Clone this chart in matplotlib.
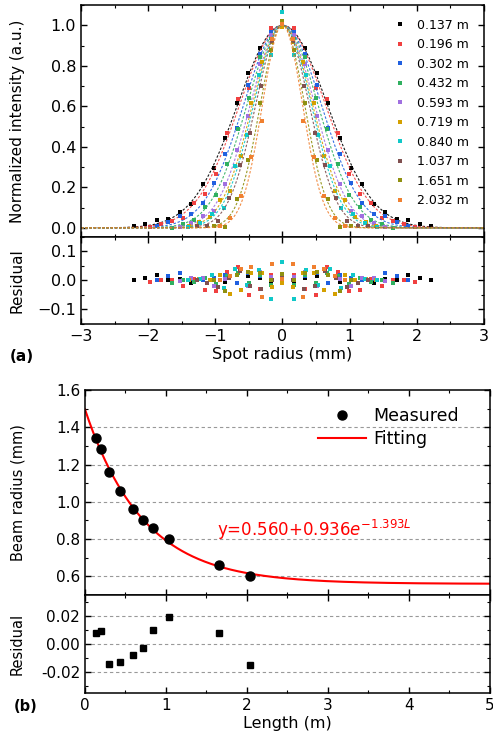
import numpy as np
import matplotlib as mpl
mpl.use('Agg')
import matplotlib.pyplot as plt
from matplotlib.ticker import MultipleLocator

plt.rcParams['font.family'] = ['DejaVu Sans']
plt.rcParams['mathtext.fontset'] = 'dejavusans'

# ---- data ----
lengths = [0.137, 0.196, 0.302, 0.432, 0.593, 0.719, 0.840, 1.037, 1.651, 2.032]
labels = ['0.137 m', '0.196 m', '0.302 m', '0.432 m', '0.593 m',
          '0.719 m', '0.840 m', '1.037 m', '1.651 m', '2.032 m']
colors = ['#000000', '#f04040', '#2060e0', '#30b060', '#a070e0',
          '#d4a000', '#10c8c8', '#805050', '#909010', '#f08030']

# measured beam radius (mm)
radius = [1.341, 1.281, 1.161, 1.060, 0.962, 0.901, 0.860, 0.800, 0.662, 0.600]
# fit residual of beam radius
radius_res = [0.008, 0.009, -0.014, -0.013, -0.008, -0.003, 0.010, 0.019, 0.008, -0.015]

# fitted model y = a + b*exp(-c*L)
fit_a, fit_b, fit_c = 0.560, 0.936, 1.393

# spot profile sampling step (mm) per series, residuals on the x>=0 side (mirrored)
steps = [0.170, 0.165, 0.170, 0.165, 0.170, 0.155, 0.175, 0.160, 0.170, 0.155]
profile_res = [
    [0.004, -0.012, 0.008, 0.015, 0.020, -0.005, -0.018, 0.010, -0.008, 0.006, 0.002, 0.018, 0.008, 0.003],
    [0.010, 0.020, -0.030, -0.050, 0.048, 0.030, -0.036, -0.032, 0.005, -0.020, 0.000, 0.000, -0.005],
    [-0.005, 0.010, 0.015, 0.025, -0.010, 0.020, 0.008, 0.000, 0.005, 0.026, 0.015, 0.003],
    [0.003, -0.015, 0.020, -0.008, 0.025, 0.015, -0.012, 0.010, -0.005, 0.000, -0.008],
    [0.000, 0.012, 0.028, -0.020, 0.018, 0.005, -0.020, 0.010, 0.008, -0.003],
    [-0.009, -0.023, 0.027, 0.027, -0.032, -0.045, 0.020, 0.000, 0.005, 0.002],
    [0.065, -0.065, 0.035, -0.017, 0.040, -0.026, 0.018, 0.005, 0.000],
    [0.010, 0.000, -0.028, -0.020, 0.034, 0.010, -0.022, -0.010, 0.003],
    [0.023, 0.003, 0.025, 0.030, 0.020, -0.035, 0.002],
    [0.006, 0.057, -0.057, 0.048, 0.040, 0.015, 0.000],
]

fig = plt.figure(figsize=(4.93, 7.45), dpi=100)

def style(ax):
    ax.tick_params(which='both', direction='in', top=True, right=True, labelsize=11.5)
    ax.tick_params(which='major', length=4, width=1)
    ax.tick_params(which='minor', length=2.2, width=0.8)
    for s in ax.spines.values():
        s.set_linewidth(1.1)

ax1 = fig.add_axes([0.1643, 0.6819, 0.8174, 0.3114])
ax2 = fig.add_axes([0.1643, 0.5651, 0.8174, 0.1168], sharex=ax1)

xs = np.linspace(-3, 3, 601)
for w, st, res, c, lab in zip(radius, steps, profile_res, colors, labels):
    r = np.array(res)
    xp = np.arange(len(r)) * st
    x = np.concatenate([-xp[:0:-1], xp])
    rr = np.concatenate([r[:0:-1], r])
    g = np.exp(-2 * x ** 2 / w ** 2)
    ax1.plot(xs, np.exp(-2 * xs ** 2 / w ** 2), ls=(0, (2.2, 1.6)), lw=0.8, color=c, alpha=0.9)
    ax1.plot(x, g + rr, 's', ms=2.3, mew=0, color=c, label=lab)
    ax2.plot(x, rr, 's', ms=2.3, mew=0, color=c)

ax1.set_xlim(-3, 3)
ax1.set_ylim(-0.045, 1.1)
ax1.yaxis.set_major_locator(MultipleLocator(0.2))
ax1.yaxis.set_minor_locator(MultipleLocator(0.1))
ax1.xaxis.set_major_locator(MultipleLocator(1))
ax1.xaxis.set_minor_locator(MultipleLocator(0.5))
ax1.set_ylabel('Normalized intensity (a.u.)', fontsize=11)
ax1.yaxis.set_label_coords(-0.139, 0.5)
plt.setp(ax1.get_xticklabels(), visible=False)
style(ax1)
ax1.legend(loc='upper right', fontsize=9, frameon=False, handlelength=0.6,
           handletextpad=1.0, labelspacing=0.52, markerscale=1.2,
           bbox_to_anchor=(0.99, 0.99))

ax2.set_ylim(-0.15, 0.15)
ax2.yaxis.set_major_locator(MultipleLocator(0.1))
ax2.yaxis.set_minor_locator(MultipleLocator(0.05))
ax2.set_ylabel('Residual', fontsize=11)
ax2.yaxis.set_label_coords(-0.139, 0.5)
ax2.set_xlabel('Spot radius (mm)', fontsize=11.5, labelpad=2)
style(ax2)
fig.text(0.02, 0.521, '(a)', fontsize=11, fontweight='bold', va='center')

# ---- panel (b) ----
ax3 = fig.add_axes([0.1724, 0.2013, 0.8215, 0.2752])
ax4 = fig.add_axes([0.1724, 0.0698, 0.8215, 0.1315], sharex=ax3)

Lf = np.linspace(0, 5, 400)
for y in [0.6, 0.8, 1.0, 1.2, 1.4]:
    ax3.axhline(y, color='#999999', ls=(0, (3, 2.5)), lw=0.8, zorder=0)
ax3.plot(lengths, radius, 'o', ms=6.5, color='black', label='Measured', zorder=3)
ax3.plot(Lf, fit_a + fit_b * np.exp(-fit_c * Lf), color='red', lw=1.5, label='Fitting', zorder=2)
ax3.set_xlim(0, 5)
ax3.set_ylim(0.5, 1.6)
ax3.yaxis.set_major_locator(MultipleLocator(0.2))
ax3.yaxis.set_minor_locator(MultipleLocator(0.1))
ax3.xaxis.set_major_locator(MultipleLocator(1))
ax3.xaxis.set_minor_locator(MultipleLocator(0.5))
ax3.set_ylabel('Beam radius (mm)', fontsize=10.5)
ax3.yaxis.set_label_coords(-0.148, 0.5)
plt.setp(ax3.get_xticklabels(), visible=False)
style(ax3)
ax3.tick_params(labelsize=11)
ax3.legend(loc='upper right', fontsize=12.5, frameon=False, handlelength=2.8,
           handletextpad=0.4, labelspacing=0.3, borderaxespad=0.0,
           bbox_to_anchor=(0.94, 0.95))
ax3.text(0.325, 0.29, r'y=0.560+0.936$\mathit{e}^{-1.393\mathit{L}}$', color='red',
         fontsize=12, va='baseline', transform=ax3.transAxes)

for y in [-0.02, 0.0, 0.02]:
    ax4.axhline(y, color='#999999', ls=(0, (3, 2.5)), lw=0.8, zorder=0)
ax4.plot(lengths, radius_res, 's', ms=4.5, color='black')
ax4.set_ylim(-0.035, 0.035)
ax4.yaxis.set_major_locator(MultipleLocator(0.02))
ax4.yaxis.set_minor_locator(MultipleLocator(0.01))
ax4.yaxis.set_major_formatter(mpl.ticker.FormatStrFormatter('%.2f'))
ax4.set_ylabel('Residual', fontsize=10.5)
ax4.yaxis.set_label_coords(-0.148, 0.5)
ax4.set_xlabel('Length (m)', fontsize=11.5, labelpad=2)
style(ax4)
ax4.tick_params(labelsize=11)
fig.text(0.027, 0.052, '(b)', fontsize=10.5, fontweight='bold', va='center')

fig.savefig('out.png', dpi=100)
